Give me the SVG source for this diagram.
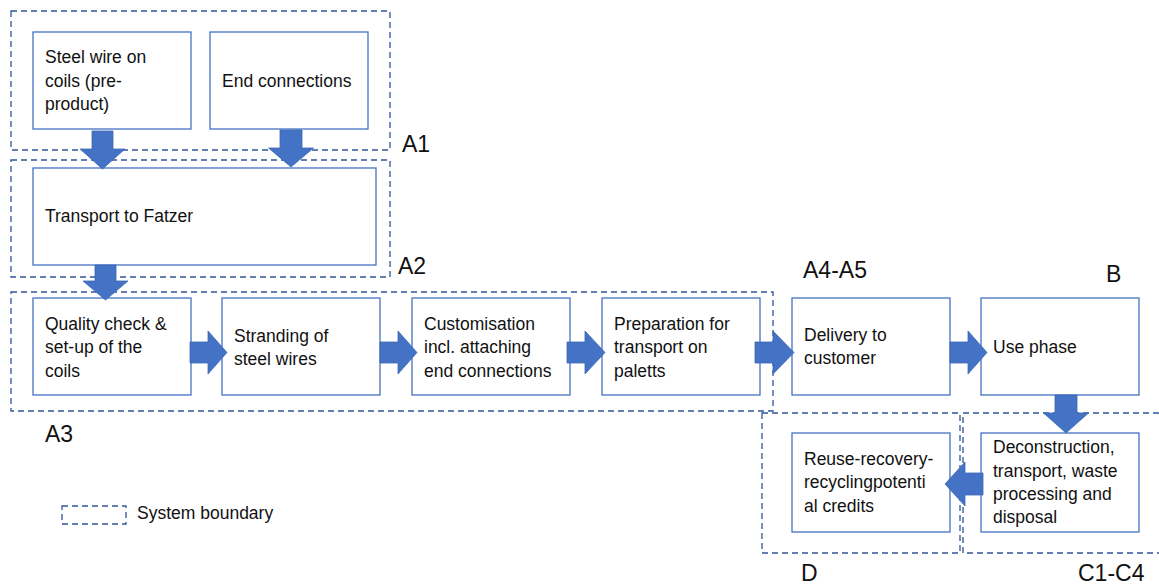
<svg xmlns="http://www.w3.org/2000/svg" width="1159" height="587" viewBox="0 0 1159 587">
<style>
.bnd{fill:none;stroke:#2F5597;stroke-width:1.3;stroke-dasharray:6 4}
.box{fill:#fff;stroke:#4472C4;stroke-width:1.3}
.t{font-family:"Liberation Sans",Arial,sans-serif;font-size:17.5px;fill:#111}
.lbl{font-family:"Liberation Sans",Arial,sans-serif;font-size:23px;fill:#111}
.arr{fill:#4472C4;stroke:#3D68B5;stroke-width:0.8}
</style>
<rect width="1159" height="587" fill="#fff"/>
<g id="boundaries">
<rect class="bnd" x="11" y="11" width="379" height="139"/>
<rect class="bnd" x="11" y="160" width="379" height="117"/>
<rect class="bnd" x="11" y="292" width="762" height="119"/>
<rect class="bnd" x="762" y="413" width="198" height="140"/>
<rect class="bnd" x="963" y="413" width="210" height="140"/>
</g>
<g id="labels">
<text class="lbl" x="402" y="152">A1</text>
<text class="lbl" x="398" y="274">A2</text>
<text class="lbl" x="45" y="442">A3</text>
<text class="lbl" x="803" y="278">A4-A5</text>
<text class="lbl" x="1106" y="282">B</text>
<text class="lbl" x="801" y="581">D</text>
<text class="lbl" x="1078" y="581">C1-C4</text>
</g>
<g id="legend">
<rect class="bnd" x="62" y="506" width="64" height="18"/>
<text class="t" x="137" y="519">System boundary</text>
</g>
<g id="steel-wire">
<rect class="box" x="33" y="32" width="158" height="97"/>
<text class="t" x="45" y="63">Steel wire on</text>
<text class="t" x="45" y="87">coils (pre-</text>
<text class="t" x="45" y="110">product)</text>
</g>
<g id="end-connections">
<rect class="box" x="210" y="32" width="158" height="97"/>
<text class="t" x="222" y="87">End connections</text>
</g>
<g id="transport">
<rect class="box" x="33" y="168" width="343" height="97"/>
<text class="t" x="45" y="222">Transport to Fatzer</text>
</g>
<g id="quality">
<rect class="box" x="33" y="298" width="158" height="97"/>
<text class="t" x="45" y="330">Quality check &amp;</text>
<text class="t" x="45" y="353">set-up of the</text>
<text class="t" x="45" y="377">coils</text>
</g>
<g id="stranding">
<rect class="box" x="222" y="298" width="158" height="97"/>
<text class="t" x="234" y="342">Stranding of</text>
<text class="t" x="234" y="365">steel wires</text>
</g>
<g id="customisation">
<rect class="box" x="412" y="298" width="158" height="97"/>
<text class="t" x="424" y="330">Customisation</text>
<text class="t" x="424" y="353">incl. attaching</text>
<text class="t" x="424" y="377">end connections</text>
</g>
<g id="preparation">
<rect class="box" x="602" y="298" width="158" height="97"/>
<text class="t" x="614" y="330">Preparation for</text>
<text class="t" x="614" y="353">transport on</text>
<text class="t" x="614" y="377">paletts</text>
</g>
<g id="delivery">
<rect class="box" x="792" y="298" width="158" height="97"/>
<text class="t" x="804" y="341">Delivery to</text>
<text class="t" x="804" y="364">customer</text>
</g>
<g id="use-phase">
<rect class="box" x="981" y="298" width="158" height="97"/>
<text class="t" x="993" y="353">Use phase</text>
</g>
<g id="deconstruction">
<rect class="box" x="981" y="433" width="158" height="99"/>
<text class="t" x="993" y="453">Deconstruction,</text>
<text class="t" x="993" y="477">transport, waste</text>
<text class="t" x="993" y="500">processing and</text>
<text class="t" x="993" y="523">disposal</text>
</g>
<g id="reuse">
<rect class="box" x="792" y="433" width="158" height="99"/>
<text class="t" x="804" y="465">Reuse-recovery-</text>
<text class="t" x="804" y="488">recyclingpotenti</text>
<text class="t" x="804" y="512">al credits</text>
</g>
<g id="connectors">
<polygon class="arr" points="92,131 113,131 113,149 125,149 102.5,169 80,149 92,149"/>
<polygon class="arr" points="280,130 302,130 302,148 313.5,148 291,167 268.5,148 280,148"/>
<polygon class="arr" points="95,265 116,265 116,281 128,281 105.5,300 83,281 95,281"/>
<polygon class="arr" points="1055,395 1077,395 1077,413 1088.5,413 1066,433 1043.5,413 1055,413"/>
<polygon class="arr" points="190,342 208,342 208,331 227,352.5 208,374 208,363 190,363"/>
<polygon class="arr" points="380,342 398,342 398,331 417,352.5 398,374 398,363 380,363"/>
<polygon class="arr" points="567,342 585,342 585,331 605,352.5 585,374 585,363 567,363"/>
<polygon class="arr" points="755,342 773,342 773,331 794,352.5 773,374 773,363 755,363"/>
<polygon class="arr" points="950,342 968,342 968,331 987,352.5 968,374 968,363 950,363"/>
<polygon class="arr" points="983,473 965,473 965,462 945,484 965,506 965,495 983,495"/>
</g>
</svg>
